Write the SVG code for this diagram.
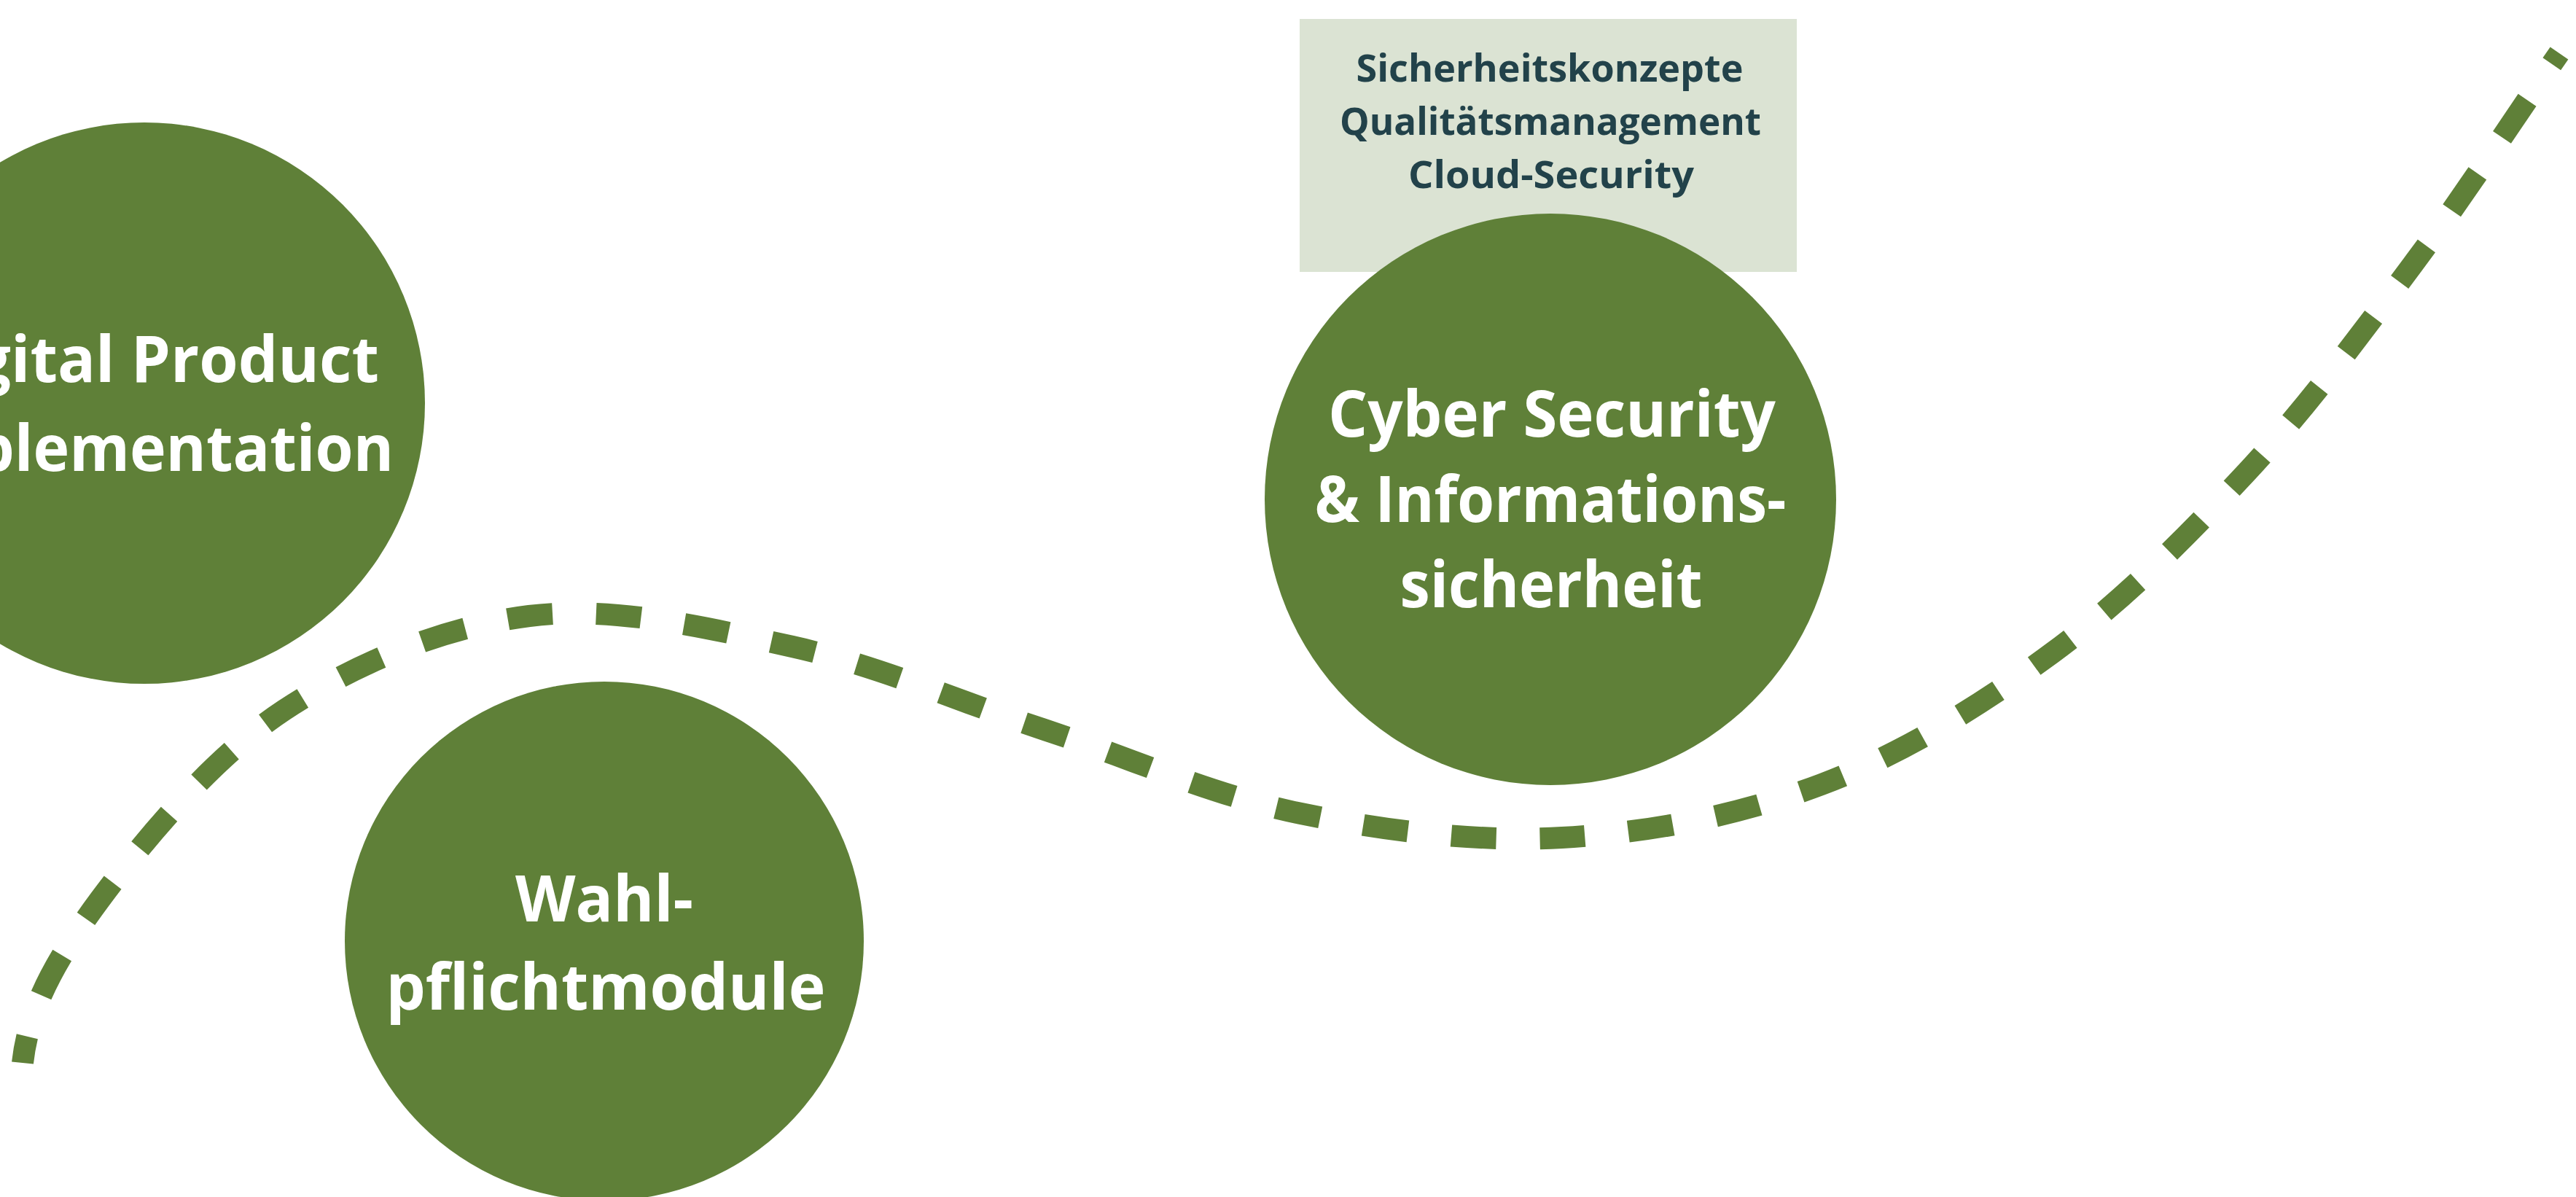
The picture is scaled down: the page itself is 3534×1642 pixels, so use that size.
<svg xmlns="http://www.w3.org/2000/svg" width="3534" height="1642" viewBox="0 0 3534 1642">
  <style>
    .circle { fill: #5f8038; }
    .ctext { font-family: "Open Sans", "Noto Sans", "Liberation Sans", sans-serif; font-weight: 700; font-size: 88px; fill: #ffffff; text-anchor: middle; }
    .box { fill: #dbe3d3; }
    .btext { font-family: "Open Sans", "Noto Sans", "Liberation Sans", sans-serif; font-weight: 700; font-size: 52px; fill: #22424a; text-anchor: middle; }
    .dash { fill: none; stroke: #5f8038; stroke-width: 30; stroke-dasharray: 62 60; stroke-dashoffset: 25; stroke-linecap: butt; }
  </style>
  <rect width="3534" height="1642" fill="#ffffff"/>
  <g id="connectors">
    <path class="dash" pathLength="4263" d="M31,1458 C39,1383 77.2,1314.7 137,1234 C196.8,1153.3 291.8,1038.8 390,974 C488.2,909.2 609.8,859.5 726,845 C842.2,830.5 969.2,861 1087,887 C1204.8,913 1317.5,963 1433,1001 C1548.5,1039 1661.7,1090.3 1780,1115 C1898.3,1139.7 2023.2,1155.5 2143,1149 C2262.8,1142.5 2387,1118.2 2499,1076 C2611,1033.8 2717.8,967.3 2815,896 C2912.2,824.7 2999.5,736.8 3082,648 C3164.5,559.2 3238.5,458.8 3310,363 C3381.5,267.2 3444,169.7 3511,73"/>
  </g>
  <g id="node-digital-product">
    <circle class="circle" cx="198" cy="553" r="385"/>
    <text class="ctext" x="198" y="524" textLength="644" lengthAdjust="spacingAndGlyphs">Digital Product</text>
    <text class="ctext" x="198" y="646" textLength="684" lengthAdjust="spacingAndGlyphs">Implementation</text>
  </g>
  <g id="node-wahlpflicht">
    <circle class="circle" cx="829" cy="1291" r="356"/>
    <text class="ctext" x="829" y="1264" textLength="244" lengthAdjust="spacingAndGlyphs">Wahl-</text>
    <text class="ctext" x="831" y="1385" textLength="603" lengthAdjust="spacingAndGlyphs">pflichtmodule</text>
  </g>
  <g id="node-cyber-topics">
    <rect class="box" x="1783" y="26" width="682" height="347"/>
    <text class="btext" x="2126" y="112" textLength="531" lengthAdjust="spacingAndGlyphs">Sicherheitskonzepte</text>
    <text class="btext" x="2127" y="185" textLength="578" lengthAdjust="spacingAndGlyphs">Qualitätsmanagement</text>
    <text class="btext" x="2128" y="258" textLength="392" lengthAdjust="spacingAndGlyphs">Cloud-Security</text>
  </g>
  <g id="node-cyber-security">
    <circle class="circle" cx="2127" cy="685" r="392"/>
    <text class="ctext" x="2129" y="599" textLength="614" lengthAdjust="spacingAndGlyphs">Cyber Security</text>
    <text class="ctext" x="2127" y="716" textLength="647" lengthAdjust="spacingAndGlyphs">&amp; Informations-</text>
    <text class="ctext" x="2128" y="833" textLength="415" lengthAdjust="spacingAndGlyphs">sicherheit</text>
  </g>
</svg>
